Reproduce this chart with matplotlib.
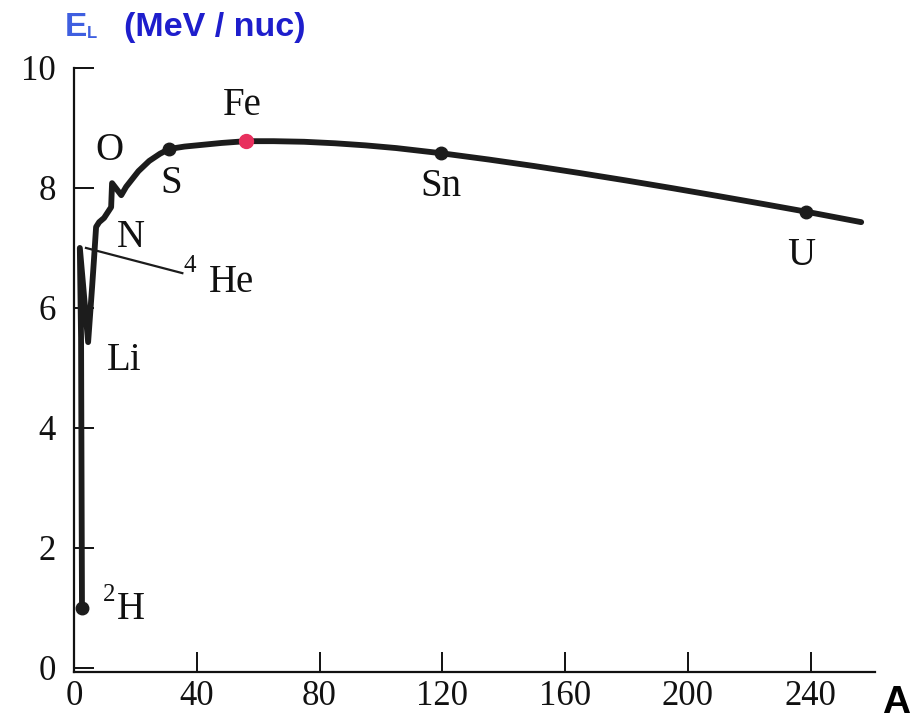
import matplotlib
matplotlib.use("Agg")
import matplotlib.pyplot as plt

# ---- data ----
A_curve = [2.6, 2.3, 1.9, 4.6, 5.9, 6.5, 7.2, 8.2, 9.8, 12.1, 12.4, 15.4, 17.0,
           21.0, 24.5, 28.0, 31.0, 36.0, 42.0, 48.0, 56.0, 65.0, 75.0, 85.0,
           95.0, 105.0, 119.5, 135.0, 150.0, 165.0, 180.0, 195.0, 210.0,
           225.0, 238.5, 256.5]
E_curve = [1.0, 5.5, 7.0, 5.43, 6.35, 6.8, 7.35, 7.43, 7.5, 7.68, 8.08, 7.88, 8.02,
           8.28, 8.45, 8.57, 8.65, 8.69, 8.72, 8.75, 8.78, 8.78, 8.77, 8.745,
           8.71, 8.665, 8.58, 8.475, 8.365, 8.247, 8.124, 7.996, 7.864,
           7.729, 7.605, 7.43]

dot_A = [2.6, 31.0, 119.5, 238.5]
dot_E = [1.0, 8.65, 8.58, 7.605]
fe_A, fe_E = 56.0, 8.78

x_ticks = [0, 40, 80, 120, 160, 200, 240]
y_ticks = [0, 2, 4, 6, 8, 10]

labels = [("Fe", 54.9, 9.38), ("O", 11.4, 8.63), ("S", 31.7, 8.08),
          ("N", 18.6, 7.18), ("He", 51.3, 6.43), ("Li", 16.3, 5.13),
          ("H", 18.6, 0.97), ("Sn", 119.6, 8.02), ("U", 237.0, 6.88)]
sup_labels = [("4", 37.6, 6.70), ("2", 11.4, 1.22)]
he_pointer_A = [3.9, 35.3]
he_pointer_E = [7.0, 6.58]

W, H = 923, 723
fig = plt.figure(figsize=(W / 100, H / 100), dpi=100)
ax = fig.add_axes([74 / W, 1 - 672 / H, (875 - 74) / W, (672 - 68) / H])

serif = "Liberation Serif"
ink = "#1c1c1c"

ax.plot(A_curve, E_curve, color=ink, lw=4.2, solid_joinstyle="round",
        solid_capstyle="round", zorder=3)
ax.plot(dot_A, dot_E, "o", color=ink, ms=9, zorder=4)
ax.plot([fe_A], [fe_E], "o", color="#e8305e", ms=10, zorder=5)
ax.plot(he_pointer_A, he_pointer_E, color=ink, lw=1.6, zorder=2)

for t, a, e in labels:
    ax.text(a, e, t, family=serif, fontsize=28, ha="center", va="center",
            color="#111111")
for t, a, e in sup_labels:
    ax.text(a, e, t, family=serif, fontsize=18, ha="center", va="center",
            color="#111111")

ax.set_xlim(0, 261)
ax.set_ylim(-0.07, 10)
ax.set_xticks(x_ticks)
ax.set_yticks(y_ticks)
ax.set_xticklabels([str(v) for v in x_ticks], family=serif, fontsize=25)
ax.set_yticklabels([str(v) for v in y_ticks], family=serif, fontsize=25)
ax.tick_params(axis="both", direction="in", length=14.5, width=1.4,
               colors="#111111")
ax.tick_params(axis="x", pad=6)
ax.tick_params(axis="y", pad=13)
for s in ["top", "right"]:
    ax.spines[s].set_visible(False)
for s in ["left", "bottom"]:
    ax.spines[s].set_linewidth(1.6)
    ax.spines[s].set_color("#111111")

# axis titles
fig.text(65 / W, 1 - 36 / H, "E", family="Liberation Sans", fontweight="bold",
         fontsize=24, color="#3f5fe0", ha="left", va="baseline")
fig.text(87 / W, 1 - 38 / H, "L", family="Liberation Sans", fontweight="bold",
         fontsize=12, color="#3f5fe0", ha="left", va="baseline")
fig.text(124 / W, 1 - 36 / H, "(MeV / nuc)", family="Liberation Sans",
         fontweight="bold", fontsize=24.5, color="#1e1ecc", ha="left",
         va="baseline")
fig.text(882 / W, 1 - 713 / H, "A", family="Liberation Sans", fontweight="bold",
         fontsize=28, color="black", ha="left", va="baseline")

fig.savefig("out.png", dpi=100)
